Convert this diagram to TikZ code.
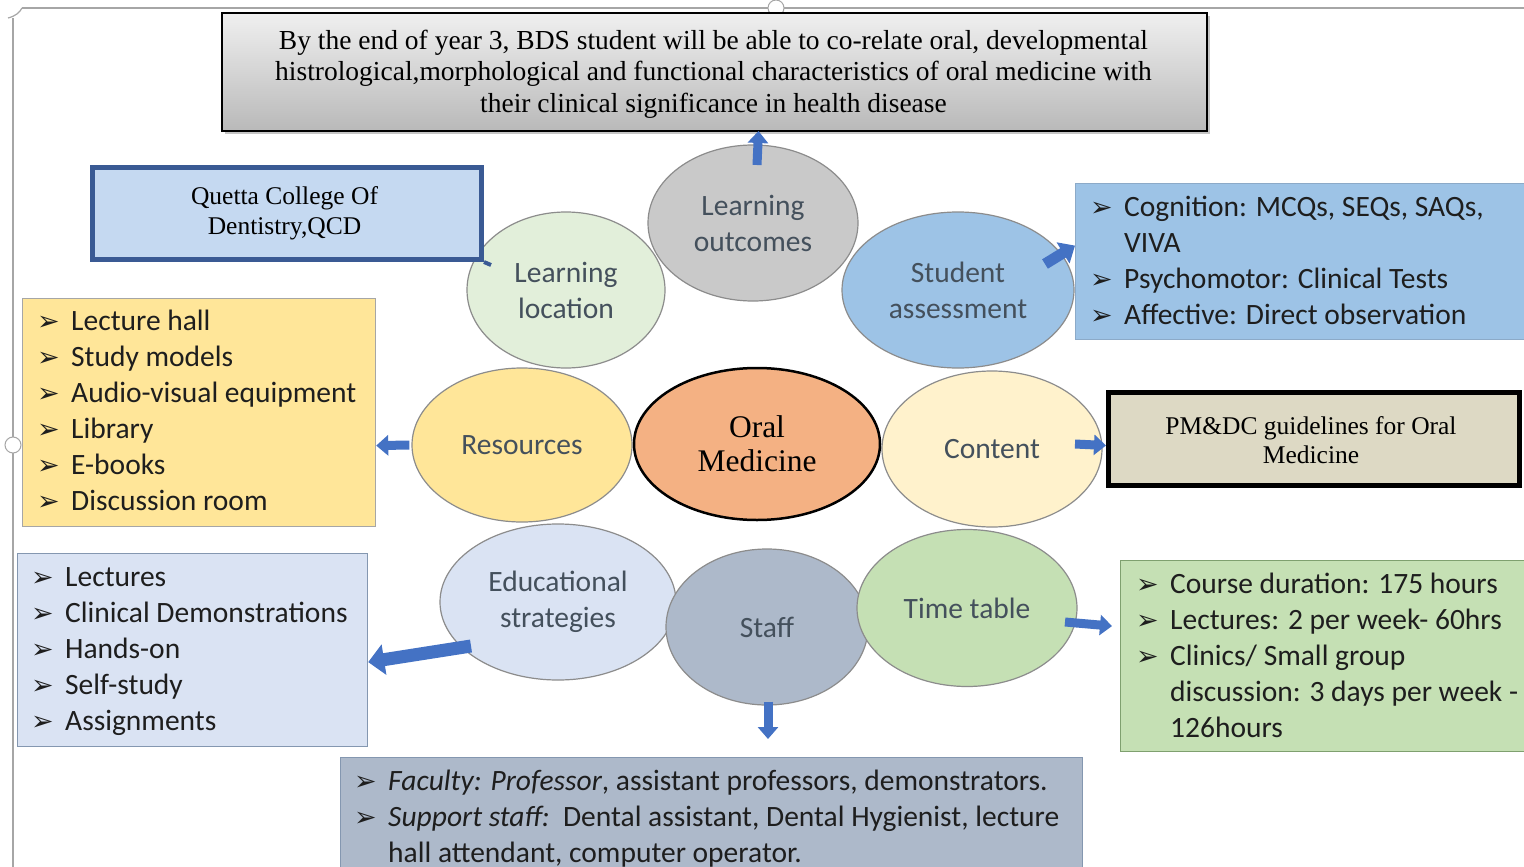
\documentclass[tikz,border=0pt]{standalone}
\usepackage{fontspec}
\setmainfont{Liberation Serif}
\newfontfamily\calib{Carlito}
\newfontfamily\dv{DejaVu Sans}
\usetikzlibrary{shapes.geometric,arrows.meta,shadows}
\definecolor{arrowblue}{HTML}{4472C4}
\definecolor{circtext}{HTML}{44505C}
\definecolor{listtext}{HTML}{1E1E1E}
\definecolor{cedge}{HTML}{8C8C8C}
\definecolor{qedge}{RGB}{58,90,148}
\definecolor{qfill}{RGB}{197,217,241}
\definecolor{llfill}{RGB}{226,239,218}
\definecolor{safill}{RGB}{157,195,230}
\definecolor{safedge}{RGB}{140,170,200}
\definecolor{resfill}{RGB}{255,230,153}
\definecolor{ctfill}{RGB}{255,242,204}
\definecolor{omfill}{RGB}{244,177,131}
\definecolor{esfill}{RGB}{218,227,243}
\definecolor{stfill}{RGB}{173,185,202}
\definecolor{ttfill}{RGB}{197,224,180}
\definecolor{ttedge}{RGB}{127,160,111}
\definecolor{bedge}{RGB}{132,151,176}
\definecolor{cbfill}{RGB}{221,217,196}
\newcommand\bul{\makebox[34pt][l]{\dv\fontsize{27}{27}\selectfont ➢}}
\tikzset{
  circ/.style={ellipse, draw=cedge, line width=1.2pt, inner sep=0pt, align=center,
    font=\calib\fontsize{29.5}{36}\selectfont, text=circtext},
  barrow/.style={draw=arrowblue, line width=9pt, -{Triangle[length=12pt,width=20pt]}},
  lst/.style={anchor=base west, inner sep=0pt, font=\calib\fontsize{29.5}{33}\selectfont, text=listtext},
  listbox/.style={draw=#1, line width=1.2pt, anchor=north west, inner sep=0pt},
  serifbox/.style={align=center, inner sep=0pt},
}
\begin{document}
\begin{tikzpicture}[x=1pt,y=-1pt]
\useasboundingbox (0,0) rectangle (1524,867);
\fill[white] (0,0) rectangle (1524,867);

% frame of the page
\draw[gray!70, line width=1.2pt] (22,8) -- (1524,8);
\draw[gray!70, line width=1.2pt] (13,18) -- (13,867);
\draw[gray!70, line width=1.2pt] (8,18) .. controls (16,16) and (20,12) .. (22,8);
\draw[gray!70, line width=1pt, fill=white] (776,8) circle (8);
\draw[gray!70, line width=1pt, fill=white] (13,445) circle (8);

% top box
\node[draw=black, line width=2pt, top color=gray!12, bottom color=gray!55,
      drop shadow={shadow xshift=3pt, shadow yshift=-3pt, opacity=0.45},
      minimum width=985pt, minimum height=118pt, anchor=north west, inner sep=0pt] (top) at (221,12) {};
\node[serifbox, font=\fontsize{27.5}{31.5}\selectfont] (toptext) at (713.5,74)
  {By the end of year 3, BDS student will be able to co-relate oral, developmental\\
   histrological,morphological and functional characteristics of oral medicine with\\
   their clinical significance in health disease};

% circles
\node[circ, fill=gray!42, minimum width=210pt, minimum height=156pt] (lo) at (753,223) {Learning\\outcomes};
\node[circ, fill=llfill, minimum width=198pt, minimum height=156pt] (ll) at (566,290) {Learning\\location};
\node[circ, fill=safill, minimum width=232pt, minimum height=156pt] (sa) at (958,290) {Student\\assessment};
\node[circ, fill=resfill, minimum width=220pt, minimum height=154pt] (res) at (522,445) {Resources};
\node[circ, fill=ctfill, minimum width=220pt, minimum height=156pt] (ct) at (992,449) {Content};
\node[circ, draw=black, line width=2.5pt, fill=omfill,
      font=\fontsize{31.5}{34}\selectfont, text=black, minimum width=246pt, minimum height=152pt] (om) at (757,444) {Oral\\Medicine};
\node[circ, fill=esfill, minimum width=236pt, minimum height=156pt] (es) at (558,602) {Educational\\strategies};
\node[circ, fill=stfill, minimum width=202pt, minimum height=156pt] (st) at (767,627) {Staff};
\node[circ, fill=ttfill, minimum width=220pt, minimum height=157pt] (tt) at (967,608) {Time table};

% Quetta box
\node[draw=qedge, line width=5pt, fill=qfill,
      minimum width=389pt, minimum height=92pt, anchor=north west, inner sep=0pt] (qb) at (90,165) {};
\node[serifbox, font=\fontsize{25.5}{30}\selectfont] (qtext) at (284.5,213) {Quetta College Of\\Dentistry,QCD};
\draw[qedge, line width=4pt] (qb.south east) -- ([shift={(-75,-25)}]ll.center);

% Resources list
\node[listbox=gray!70, fill=resfill, minimum width=353pt, minimum height=228pt] (rb) at (22,298) {};
\foreach \t [count=\i] in {Lecture hall, Study models, Audio-visual equipment, Library, E-books, Discussion room}
  \node[lst] (rl\i) at (37,{294+36*\i}) {\bul\t};

% Student assessment list
\node[listbox=safedge, fill=safill, minimum width=460pt, minimum height=156pt] (sb) at (1075,183) {};
\node[lst] (sl1) at (1090,216) {\bul Cognition: MCQs, SEQs, SAQs,};
\node[lst] (sl2) at (1124,252) {VIVA};
\node[lst] (sl3) at (1090,288) {\bul Psychomotor: Clinical Tests};
\node[lst] (sl4) at (1090,324) {\bul Affective: Direct observation};

% Content box
\node[draw=black, line width=5pt, fill=cbfill,
      minimum width=411pt, minimum height=93pt, anchor=north west, inner sep=0pt] (cb) at (1106,390) {};
\node[serifbox, font=\fontsize{25.5}{29}\selectfont] (ctext) at (1311,440) {PM\&DC guidelines for Oral\\Medicine};

% Educational strategies list
\node[listbox=bedge, fill=esfill, minimum width=350pt, minimum height=193pt] (eb) at (17,553) {};
\foreach \t [count=\i] in {Lectures, Clinical Demonstrations, Hands-on, Self-study, Assignments}
  \node[lst] (el\i) at (31,{550+36*\i}) {\bul\t};

% Time table list
\node[listbox=ttedge, fill=ttfill, minimum width=420pt, minimum height=191pt] (tb) at (1120,560) {};
\node[lst] (tl1) at (1136,593) {\bul Course duration: 175 hours};
\node[lst] (tl2) at (1136,629) {\bul Lectures: 2 per week- 60hrs};
\node[lst] (tl3) at (1136,665) {\bul Clinics/ Small group};
\node[lst] (tl4) at (1170,701) {discussion: 3 days per week -};
\node[lst] (tl5) at (1170,737) {126hours};

% Staff list
\node[listbox=bedge, fill=stfill, minimum width=742pt, minimum height=120pt] (stb) at (340,757) {};
\node[lst] (stl1) at (354,790) {\bul\textit{Faculty: Professor}, assistant professors, demonstrators.};
\node[lst] (stl2) at (354,826) {\bul\textit{Support staff:}\ \ Dental assistant, Dental Hygienist, lecture};
\node[lst] (stl3) at (388,862) {hall attendant, computer operator.};

% arrows
\coordinate (stend) at (768,739);
\draw[barrow] ([shift={(4,-58)}]lo.center) -- ([shift={(44,-1)}]top.south);
\draw[barrow] ([shift={(-2,0)}]res.west) -- ([shift={(0,33)}]rb.east);
\draw[barrow] ([shift={(83,-5)}]ct.center) -- ([shift={(0,6.5)}]cb.west);
\draw[barrow, line width=11pt, -{Triangle[length=14pt,width=24pt]}] ([shift={(87,-26)}]sa.center) -- ([shift={(0,-16)}]sb.west);
\draw[barrow, line width=13pt, -{Triangle[length=16pt,width=30pt]}] ([shift={(-87,44)}]es.center) -- ([shift={(0,12)}]eb.east);
\draw[barrow] ([shift={(98,14)}]tt.center) -- ([shift={(-8,-30)}]tb.west);
\draw[barrow] ([shift={(1,-4)}]st.south) -- (stend);
\end{tikzpicture}
\end{document}
